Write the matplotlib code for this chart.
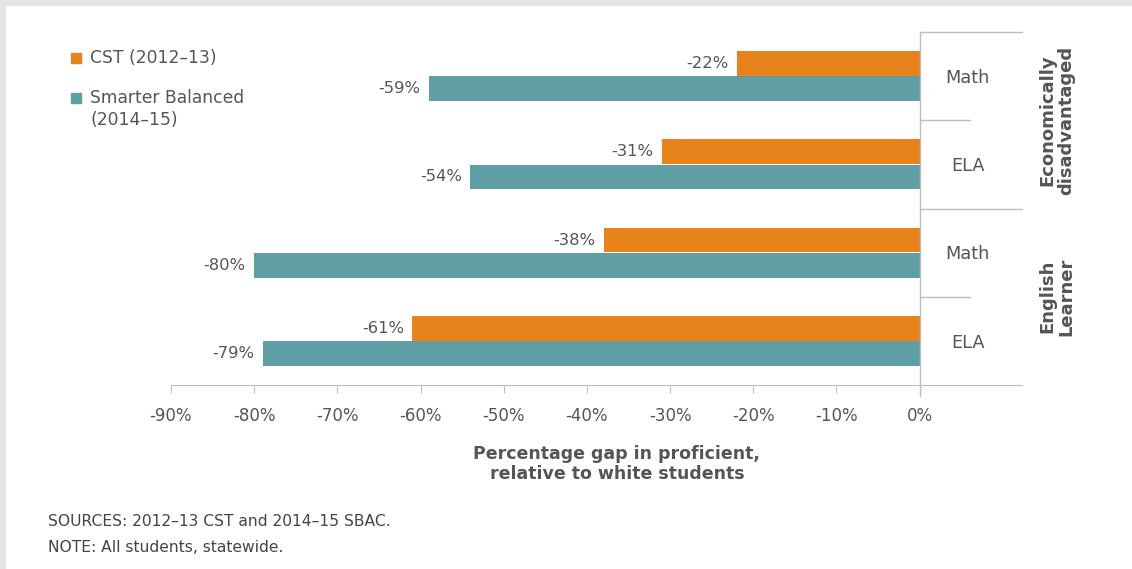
import matplotlib.pyplot as plt
import numpy as np
from matplotlib.patches import Rectangle

# proficiency gap relative to white students, in percent
groups = ["Economically\ndisadvantaged", "English\nLearner"]
subjects = ["Math", "ELA", "Math", "ELA"]
cst_2012 = [-22, -31, -38, -61]
sbac_2015 = [-59, -54, -80, -79]
series_names = ["CST (2012\u201313)", "Smarter Balanced\n(2014\u201315)"]

ORANGE = "#E8821A"
TEAL = "#5F9EA5"
GREY_TXT = "#555555"
LINE = "#BDBDBD"
W, H = 1132, 569

plt.rcParams['font.family'] = ['DejaVu Sans']


def fx(px):
    return px / W


def fy(px):
    return 1 - px / H


fig = plt.figure(figsize=(W / 100, H / 100), dpi=100)
fig.patch.set_facecolor("white")
# light frame along top and left edge
fig.patches.append(Rectangle((0, fy(5)), 1, 5 / H, transform=fig.transFigure,
                             color="#E6E6E6", zorder=0))
fig.patches.append(Rectangle((0, 0), fx(5), 1, transform=fig.transFigure,
                             color="#E6E6E6", zorder=0))

ax = fig.add_axes([fx(171), fy(385), fx(1022 - 171), (385 - 32) / H])

y = np.arange(len(subjects))
h = 0.28
b1 = ax.barh(y - 0.142, cst_2012, height=h, color=ORANGE)
b2 = ax.barh(y + 0.142, sbac_2015, height=h, color=TEAL)

for bars, vals in ((b1, cst_2012), (b2, sbac_2015)):
    for rect, v in zip(bars, vals):
        ax.text(v - 1.0, rect.get_y() + rect.get_height() / 2, f"{v}%",
                ha="right", va="center", fontsize=11.8, color=GREY_TXT)

ax.set_xlim(-90, 12.3)
ax.set_ylim(3.5, -0.5)

# row separators and the zero line
ax.plot([0, 0], [-0.5, 3.62], color=LINE, lw=1, clip_on=False)
for yy, x_end in ((-0.5, 12.3), (0.5, 6.0), (1.5, 12.3), (2.5, 6.0)):
    ax.plot([0, x_end], [yy, yy], color=LINE, lw=1, clip_on=False)

for i, s in enumerate(subjects):
    ax.text(5.8, i + 0.02, s, ha="center", va="center", fontsize=12.8, color=GREY_TXT)
for j, g in enumerate(groups):
    ax.text(16.5, 2 * j + 0.5, g, rotation=90, ha="center", va="center",
            fontsize=13, fontweight="bold", color=GREY_TXT, linespacing=1.1,
            clip_on=False)

for side in ("top", "right", "left"):
    ax.spines[side].set_visible(False)
ax.spines["bottom"].set_color(LINE)
ax.set_yticks([])
ticks = np.arange(-90, 1, 10)
ax.set_xticks(ticks)
ax.set_xticklabels([f"{t}%" for t in ticks])
ax.tick_params(axis="x", length=6, color=LINE, labelsize=12, labelcolor=GREY_TXT, pad=10)

ax.set_xlabel("Percentage gap in proficient,\nrelative to white students",
              fontsize=12.5, fontweight="bold", color=GREY_TXT, linespacing=1.15)
ax.xaxis.set_label_coords(0.524, -0.17)

# legend: square key next to the first line of each label
for name, color, ypx in zip(series_names, (ORANGE, TEAL), (58, 98)):
    fig.patches.append(Rectangle((fx(71), fy(ypx + 5)), fx(10), 10 / H,
                                 transform=fig.transFigure, color=color))
    fig.text(fx(90), fy(ypx - 9), name, fontsize=12.3, color=GREY_TXT,
             ha="left", va="top", linespacing=1.3)

fig.text(fx(48), fy(521), "SOURCES: 2012\u201313 CST and 2014\u201315 SBAC.",
         fontsize=11.2, color="#444444", va="center")
fig.text(fx(48), fy(547), "NOTE: All students, statewide.",
         fontsize=11.2, color="#444444", va="center")

fig.savefig("out.png", dpi=100)
